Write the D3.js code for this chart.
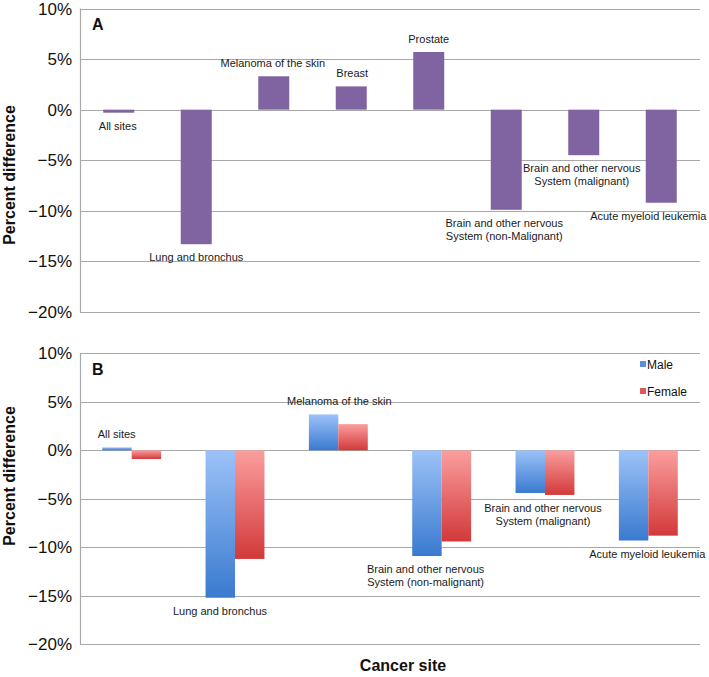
<!DOCTYPE html>
<html><head><meta charset="utf-8">
<script src="https://cdnjs.cloudflare.com/ajax/libs/d3/7.8.5/d3.min.js"></script>
<style>
html,body{margin:0;padding:0;background:#fff;}
text{font-family:"Liberation Sans",Arial,Helvetica,sans-serif;}
</style>
</head><body>
<svg id="chart" width="709" height="677"></svg>
<script>
// ---------- data ----------
const categoriesA = ["All sites","Lung and bronchus","Melanoma of the skin","Breast","Prostate",
  "Brain and other nervous|System (non-Malignant)","Brain and other nervous|System (malignant)","Acute myeloid leukemia"];
const valuesA = [-0.3, -13.3, 3.3, 2.3, 5.7, -9.9, -4.5, -9.2];

const categoriesB = ["All sites","Lung and bronchus","Melanoma of the skin",
  "Brain and other nervous|System (non-malignant)","Brain and other nervous|System (malignant)","Acute myeloid leukemia"];
const seriesB = ["Male","Female"];
const maleB = [0.3, -15.2, 3.7, -10.9, -4.4, -9.3];
const femaleB = [-0.9, -11.2, 2.7, -9.4, -4.6, -8.8];

const yTicks = [10, 5, 0, -5, -10, -15, -20];
const yTickLabels = ["10%","5%","0%","\u22125%","\u221210%","\u221215%","\u221220%"];

// ---------- drawing ----------
const svg = d3.select("#chart");
const defs = svg.append("defs");
function grad(id, c1, c2){
  const g = defs.append("linearGradient").attr("id", id).attr("x1",0).attr("y1",0).attr("x2",0).attr("y2",1);
  g.append("stop").attr("offset","0%").attr("stop-color",c1);
  g.append("stop").attr("offset","100%").attr("stop-color",c2);
}
grad("gMale", "#9cc2f8", "#3a7acf");
grad("gFemale", "#fb9e9e", "#d2393a");

const X0 = 80, X1 = 700;
const gridColor = "#a9a9a9";

function drawAxis(y, yTitleCenter, letter, letterY){
  const g = svg.append("g");
  g.selectAll("line.grid").data(yTicks).enter().append("line")
    .attr("x1", X0).attr("x2", X1)
    .attr("y1", d => Math.round(y(d))+0.5).attr("y2", d => Math.round(y(d))+0.5)
    .attr("stroke", gridColor).attr("stroke-width", 1.2);
  g.append("line").attr("x1", X0+0.5).attr("x2", X0+0.5)
    .attr("y1", y(10)).attr("y2", y(-20)).attr("stroke", gridColor).attr("stroke-width",1.2);
  g.selectAll("text.tick").data(yTicks).enter().append("text")
    .attr("x", 72).attr("y", d => y(d)+6).attr("text-anchor","end")
    .attr("font-size", 17).attr("fill","#111")
    .text((d,i) => yTickLabels[i]);
  g.append("text").attr("transform", `translate(15,${yTitleCenter}) rotate(-90)`)
    .attr("text-anchor","middle").attr("font-size",16).attr("font-weight","bold").attr("fill","#111")
    .text("Percent difference");
  g.append("text").attr("x", 92).attr("y", letterY).attr("font-size",16).attr("font-weight","bold").attr("fill","#111")
    .text(letter);
}

function multiLabel(sel, text, x, y, anchor){
  const parts = text.split("|");
  const t = svg.append("text").attr("font-size", 11).attr("fill","#1a1a1a").attr("text-anchor", anchor||"middle");
  parts.forEach((p,i) => t.append("tspan").attr("x", x).attr("y", y + i*13.3).text(p));
}

// ----- Panel A -----
const yA = d3.scaleLinear().domain([10,-20]).range([8.5, 312]);
const xA = d3.scaleBand().domain(categoriesA).range([X0, X1]).paddingInner(0.6).paddingOuter(0.3);
drawAxis(yA, 175, "A", 30);
svg.append("g").selectAll("rect").data(valuesA).enter().append("rect")
  .attr("x", (d,i) => xA(categoriesA[i]))
  .attr("width", xA.bandwidth())
  .attr("y", d => yA(Math.max(0,d)))
  .attr("height", d => Math.abs(yA(d)-yA(0)))
  .attr("fill", "#8064a2");
const labelDxA = [-1, 0, -1, 1, 0, -2, -2, -13];
valuesA.forEach((v,i) => {
  const cx = xA(categoriesA[i]) + xA.bandwidth()/2 + labelDxA[i];
  const yy = v >= 0 ? yA(v) - 9 : yA(v) + 17;
  multiLabel(null, categoriesA[i], cx, yy);
});

// ----- Panel B -----
const yB = d3.scaleLinear().domain([10,-20]).range([353.3, 644.3]);
const xB = d3.scaleBand().domain(categoriesB).range([X0, X1]).paddingInner(0.43).paddingOuter(0.215);
const xSub = d3.scaleBand().domain(seriesB).range([0, xB.bandwidth()]);
drawAxis(yB, 476, "B", 375);
const dataB = [maleB, femaleB];
const fills = ["url(#gMale)", "url(#gFemale)"];
dataB.forEach((vals, s) => {
  svg.append("g").selectAll("rect").data(vals).enter().append("rect")
    .attr("x", (d,i) => xB(categoriesB[i]) + xSub(seriesB[s]))
    .attr("width", xSub.bandwidth())
    .attr("y", d => yB(Math.max(0,d)))
    .attr("height", d => Math.abs(yB(d)-yB(0)))
    .attr("fill", fills[s]);
});
const labelDxB = [-15, -15, 1, -16, -2, -1];
categoriesB.forEach((c,i) => {
  const vm = maleB[i];
  const ext = vm >= 0 ? Math.max(maleB[i], femaleB[i]) : Math.min(maleB[i], femaleB[i]);
  const cx = xB(c) + xB.bandwidth()/2 + labelDxB[i];
  const yy = vm >= 0 ? yB(vm) - 9 : yB(ext) + 17;
  multiLabel(null, c, cx, yy);
});

// legend
const legColors = ["#5a8fdb", "#e0575a"];
seriesB.forEach((s,i) => {
  const ly = 364 + i*27;
  svg.append("rect").attr("x", 640).attr("y", ly-3).attr("width",6).attr("height",6).attr("fill", legColors[i]);
  svg.append("text").attr("x", 647).attr("y", ly+4.5).attr("font-size",12).attr("fill","#111").text(s);
});

// x title
svg.append("text").attr("x", 403).attr("y", 671).attr("text-anchor","middle")
  .attr("font-size",16).attr("font-weight","bold").attr("fill","#111").text("Cancer site");
</script>
</body></html>
